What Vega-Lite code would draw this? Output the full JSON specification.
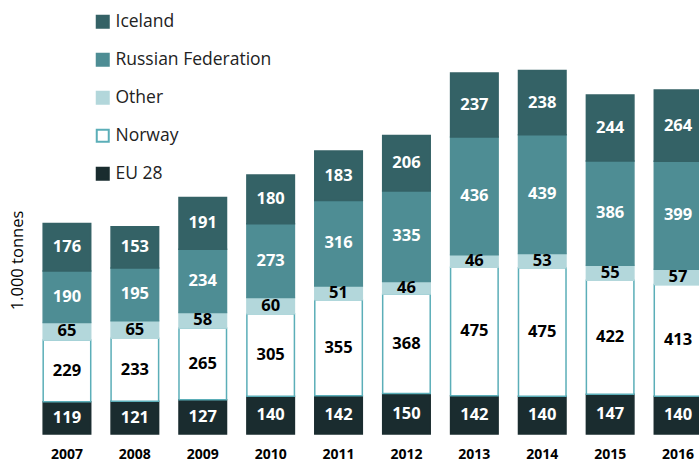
{
  "$schema": "https://vega.github.io/schema/vega-lite/v6.json",
  "width": 666,
  "height": 424,
  "autosize": "none",
  "padding": {"left": 33, "top": 10, "right": 0, "bottom": 30},
  "background": "white",
  "config": {"view": {"stroke": null}, "font": "Open Sans"},
  "data": {
    "values": [
      {"year": "2007", "series": "EU 28", "value": 119},
      {"year": "2007", "series": "Norway", "value": 229},
      {"year": "2007", "series": "Other", "value": 65},
      {"year": "2007", "series": "Russian Federation", "value": 190},
      {"year": "2007", "series": "Iceland", "value": 176},
      {"year": "2008", "series": "EU 28", "value": 121},
      {"year": "2008", "series": "Norway", "value": 233},
      {"year": "2008", "series": "Other", "value": 65},
      {"year": "2008", "series": "Russian Federation", "value": 195},
      {"year": "2008", "series": "Iceland", "value": 153},
      {"year": "2009", "series": "EU 28", "value": 127},
      {"year": "2009", "series": "Norway", "value": 265},
      {"year": "2009", "series": "Other", "value": 58},
      {"year": "2009", "series": "Russian Federation", "value": 234},
      {"year": "2009", "series": "Iceland", "value": 191},
      {"year": "2010", "series": "EU 28", "value": 140},
      {"year": "2010", "series": "Norway", "value": 305},
      {"year": "2010", "series": "Other", "value": 60},
      {"year": "2010", "series": "Russian Federation", "value": 273},
      {"year": "2010", "series": "Iceland", "value": 180},
      {"year": "2011", "series": "EU 28", "value": 142},
      {"year": "2011", "series": "Norway", "value": 355},
      {"year": "2011", "series": "Other", "value": 51},
      {"year": "2011", "series": "Russian Federation", "value": 316},
      {"year": "2011", "series": "Iceland", "value": 183},
      {"year": "2012", "series": "EU 28", "value": 150},
      {"year": "2012", "series": "Norway", "value": 368},
      {"year": "2012", "series": "Other", "value": 46},
      {"year": "2012", "series": "Russian Federation", "value": 335},
      {"year": "2012", "series": "Iceland", "value": 206},
      {"year": "2013", "series": "EU 28", "value": 142},
      {"year": "2013", "series": "Norway", "value": 475},
      {"year": "2013", "series": "Other", "value": 46},
      {"year": "2013", "series": "Russian Federation", "value": 436},
      {"year": "2013", "series": "Iceland", "value": 237},
      {"year": "2014", "series": "EU 28", "value": 140},
      {"year": "2014", "series": "Norway", "value": 475},
      {"year": "2014", "series": "Other", "value": 53},
      {"year": "2014", "series": "Russian Federation", "value": 439},
      {"year": "2014", "series": "Iceland", "value": 238},
      {"year": "2015", "series": "EU 28", "value": 147},
      {"year": "2015", "series": "Norway", "value": 422},
      {"year": "2015", "series": "Other", "value": 55},
      {"year": "2015", "series": "Russian Federation", "value": 386},
      {"year": "2015", "series": "Iceland", "value": 244},
      {"year": "2016", "series": "EU 28", "value": 140},
      {"year": "2016", "series": "Norway", "value": 413},
      {"year": "2016", "series": "Other", "value": 57},
      {"year": "2016", "series": "Russian Federation", "value": 399},
      {"year": "2016", "series": "Iceland", "value": 264}
    ]
  },
  "transform": [
    {"calculate": "indexof(['EU 28','Norway','Other','Russian Federation','Iceland'], datum.series)", "as": "rank"},
    {"stack": "value", "groupby": ["year"], "sort": [{"field": "rank", "order": "ascending"}], "as": ["v0", "v1"]},
    {"calculate": "(datum.v0 + datum.v1) / 2", "as": "mid"}
  ],
  "encoding": {
    "x": {
      "field": "year", "type": "ordinal",
      "scale": {"range": [0, 679], "paddingInner": 0.3, "paddingOuter": 0.15},
      "axis": {"title": null, "ticks": false, "domain": false, "labelAngle": 0, "labelFontSize": 14, "labelFontWeight": "bold", "labelColor": "#000000", "labelPadding": 13}
    }
  },
  "layer": [
    {
      "mark": {"type": "bar", "strokeWidth": 1.5},
      "encoding": {
        "y": {
          "field": "v0", "type": "quantitative",
          "scale": {"domain": [0, 1569], "nice": false, "zero": true},
          "axis": {"title": "1.000 tonnes", "labels": false, "ticks": false, "domain": false, "grid": false, "titleFontSize": 16.5, "titleFontWeight": "normal", "titleColor": "#000000", "titleX": -16, "titleY": 250, "titleBaseline": "middle"}
        },
        "y2": {"field": "v1"},
        "fill": {
          "field": "series", "type": "nominal",
          "scale": {"domain": ["Iceland", "Russian Federation", "Other", "Norway", "EU 28"], "range": ["#346266", "#4E8D94", "#B3D7DB", "#FFFFFF", "#1A2C2F"]},
          "legend": {"title": null, "orient": "none", "legendX": 61, "legendY": 3, "labelFontSize": 17.5, "labelColor": "#222222", "symbolType": "square", "symbolSize": 144, "symbolStrokeWidth": 2, "rowPadding": 17, "labelOffset": 4}
        },
        "stroke": {
          "field": "series", "type": "nominal",
          "scale": {"domain": ["Iceland", "Russian Federation", "Other", "Norway", "EU 28"], "range": ["#346266", "#4E8D94", "#B3D7DB", "#5BAEB8", "#1A2C2F"]},
          "legend": {"title": null, "orient": "none", "legendX": 61, "legendY": 3, "labelFontSize": 17.5, "labelColor": "#222222", "symbolType": "square", "symbolSize": 144, "symbolStrokeWidth": 2, "rowPadding": 17, "labelOffset": 4}
        }
      }
    },
    {
      "mark": {"type": "text", "fontSize": 16.5, "fontWeight": "bold", "baseline": "middle", "align": "center"},
      "encoding": {
        "y": {"field": "mid", "type": "quantitative"},
        "text": {"field": "value", "type": "quantitative"},
        "color": {
          "condition": {"test": "datum.series === 'Other' || datum.series === 'Norway'", "value": "#000000"},
          "value": "#FFFFFF"
        }
      }
    }
  ]
}
